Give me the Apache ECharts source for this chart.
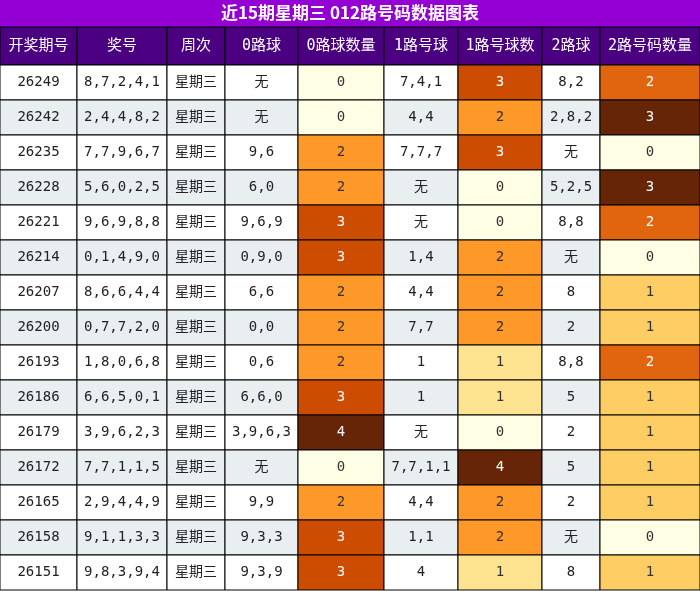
<!DOCTYPE html>
<html><head><meta charset="utf-8">
<script src="https://cdn.jsdelivr.net/npm/echarts@6/dist/echarts.min.js"></script>
<style>html,body{margin:0;padding:0;background:#fff}#main{width:700px;height:591px}</style>
</head><body><div id="main"></div>
<script>
var chart = echarts.init(document.getElementById('main'));

var title = '近15期星期三 012路号码数据图表';
var headers = ['开奖期号', '奖号', '周次', '0路球', '0路球数量', '1路号球', '1路号球数', '2路球', '2路号码数量'];
var issues = ['26249','26242','26235','26228','26221','26214','26207','26200','26193','26186','26179','26172','26165','26158','26151'];
var draws = ['8,7,2,4,1','2,4,4,8,2','7,7,9,6,7','5,6,0,2,5','9,6,9,8,8','0,1,4,9,0','8,6,6,4,4','0,7,7,2,0','1,8,0,6,8','6,6,5,0,1','3,9,6,2,3','7,7,1,1,5','2,9,4,4,9','9,1,1,3,3','9,8,3,9,4'];
var weekday = '星期三';
var road0 = ['无','无','9,6','6,0','9,6,9','0,9,0','6,6','0,0','0,6','6,6,0','3,9,6,3','无','9,9','9,3,3','9,3,9'];
var road0Count = [0,0,2,2,3,3,2,2,2,3,4,0,2,3,3];
var road1 = ['7,4,1','4,4','7,7,7','无','无','1,4','4,4','7,7','1','1','无','7,7,1,1','4,4','1,1','4'];
var road1Count = [3,2,3,0,0,2,2,2,1,1,0,4,2,2,1];
var road2 = ['8,2','2,8,2','无','5,2,5','8,8','无','8','2','8,8','5','2','5','2','无','8'];
var road2Count = [2,3,0,3,2,0,1,1,2,1,1,1,1,0,1];

// layout
var colEdges = [0, 77, 167, 225, 298, 384, 458, 542, 600, 700];
var headH = 38, rowH = 35, titleH = 27;
var palette = ['#ffffe5','#fff7bc','#fee391','#fec44f','#fe9929','#ec7014','#cc4c02','#993404','#662506'];

function hexToRgb(h) { return [parseInt(h.substr(1,2),16), parseInt(h.substr(3,2),16), parseInt(h.substr(5,2),16)]; }
function scaleColor(t) {
    var p = t * (palette.length - 1);
    var i = Math.min(Math.floor(p), palette.length - 2), f = p - i;
    var a = hexToRgb(palette[i]), b = hexToRgb(palette[i + 1]);
    return 'rgb(' + [0,1,2].map(function(k){ return Math.round(a[k] + (b[k]-a[k]) * f); }).join(',') + ')';
}
function maxOf(arr) { return Math.max.apply(null, arr); }

var cells = [];
headers.forEach(function(h, c) { cells.push({ value: [c, 0, h], bg: '#4b0082', fg: '#fff' }); });
var countCols = { 4: road0Count, 6: road1Count, 8: road2Count };
for (var r = 0; r < issues.length; r++) {
    var base = r % 2 ? '#e9eef1' : '#ffffff';
    var cols = [issues[r], draws[r], weekday, road0[r], road0Count[r], road1[r], road1Count[r], road2[r], road2Count[r]];
    cols.forEach(function(v, c) {
        var bg = base, fg = '#222';
        if (countCols[c]) {
            var t = v / maxOf(countCols[c]);
            bg = scaleColor(t);
            fg = t > 0.6 ? '#fff' : '#333';
        }
        cells.push({ value: [c, r + 1, String(v)], bg: bg, fg: fg });
    });
}

function rowTop(row) { return row === 0 ? 0 : headH + (row - 1) * rowH; }

option = {
    animation: false,
    graphic: [{
        type: 'rect', left: 0, top: 0, shape: { width: 700, height: titleH },
        style: { fill: '#9400d3' }
    }, {
        type: 'text', left: 'center', top: 4,
        style: { text: title, fill: '#fff', font: 'bold 17px "Noto Sans CJK SC", "DejaVu Sans Mono"' }
    }],
    grid: { left: 0, right: 0, top: titleH, bottom: 0 },
    xAxis: { type: 'value', min: 0, max: 700, show: false },
    yAxis: { type: 'value', min: 0, max: 591 - titleH, inverse: true, show: false },
    series: [{
        type: 'custom',
        data: cells.map(function(d) { return { value: d.value, bg: d.bg, fg: d.fg }; }),
        renderItem: function(params, api) {
            var c = api.value(0), row = api.value(1);
            var d = cells[params.dataIndex];
            var p0 = api.coord([colEdges[c], rowTop(row)]);
            var p1 = api.coord([colEdges[c + 1], rowTop(row) + (row === 0 ? headH : rowH)]);
            var isHead = row === 0;
            return {
                type: 'group',
                children: [{
                    type: 'rect',
                    shape: { x: p0[0], y: p0[1], width: p1[0] - p0[0], height: p1[1] - p0[1] },
                    style: { fill: d.bg, stroke: '#000', lineWidth: 1 }
                }, {
                    type: 'text',
                    style: {
                        x: (p0[0] + p1[0]) / 2, y: (p0[1] + p1[1]) / 2,
                        text: d.value[2], fill: d.fg,
                        align: 'center', verticalAlign: 'middle',
                        font: (isHead ? 15 : 14) + 'px "DejaVu Sans Mono", "Noto Sans CJK SC"'
                    }
                }]
            };
        }
    }]
};
chart.setOption(option);
</script>
</body></html>
